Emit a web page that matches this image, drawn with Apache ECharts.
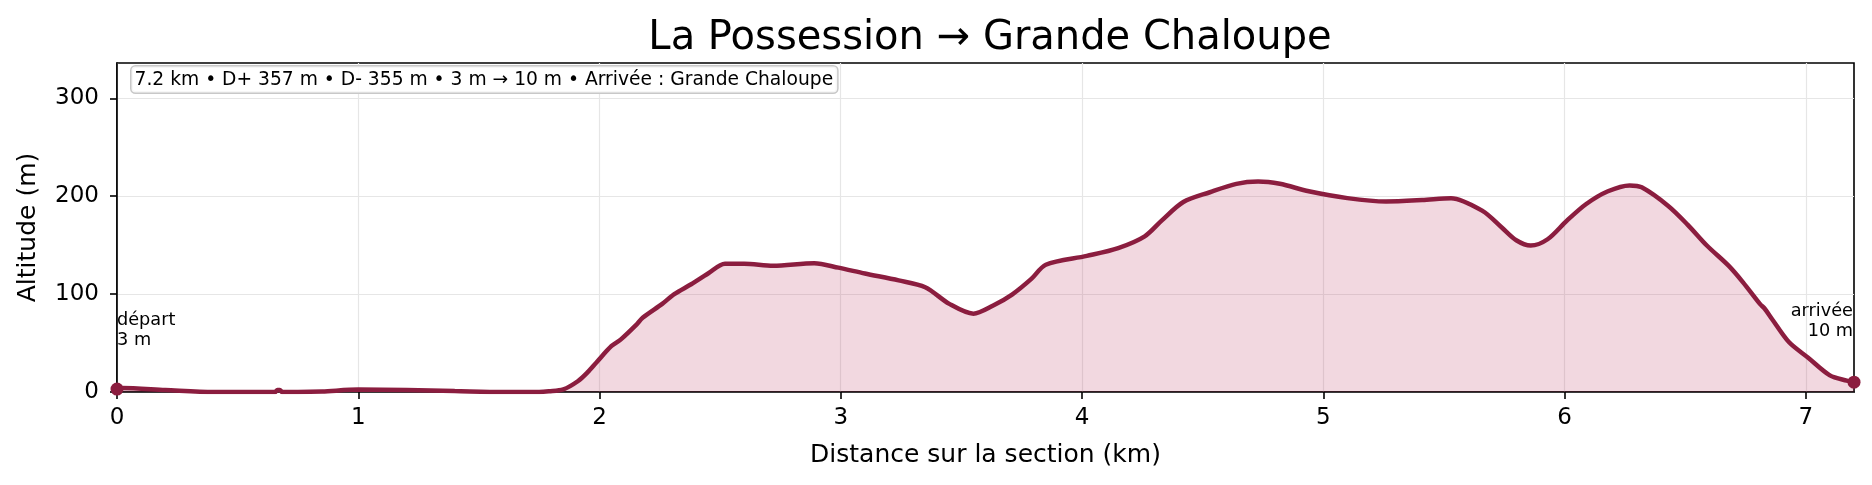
<!DOCTYPE html>
<html>
<head>
<meta charset="utf-8">
<script src="https://cdn.jsdelivr.net/npm/echarts@6/dist/echarts.min.js"></script>
<style>
html,body{margin:0;padding:0;background:#fff;}
#chart{width:1872px;height:485px;}
</style>
</head>
<body>
<div id="chart"></div>
<script>
const titleText = 'La Possession \u2192 Grande Chaloupe';
const infoText = '7.2 km \u2022 D+ 357 m \u2022 D- 355 m \u2022 3 m \u2192 10 m \u2022 Arriv\u00e9e : Grande Chaloupe';
const xLabel = 'Distance sur la section (km)';
const yLabel = 'Altitude (m)';
const xTicks = [0, 1, 2, 3, 4, 5, 6, 7];
const yTicks = [0, 100, 200, 300];
const xMax = 7.2;
const yMax = 336;

const distKm = [0, 0.02, 0.2, 0.4, 0.6, 0.655, 0.665, 0.675, 0.685, 0.75, 0.85, 1.0, 1.2, 1.4, 1.6, 1.75, 1.79, 1.85, 1.91, 1.95, 1.99, 2.05, 2.09, 2.15, 2.18, 2.26, 2.31, 2.38, 2.45, 2.52, 2.6, 2.72, 2.89, 2.99, 3.10, 3.24, 3.35, 3.45, 3.55, 3.63, 3.71, 3.79, 3.85, 4.02, 4.15, 4.26, 4.33, 4.42, 4.53, 4.64, 4.73, 4.82, 4.94, 5.10, 5.26, 5.41, 5.53, 5.66, 5.74, 5.80, 5.86, 5.93, 6.01, 6.09, 6.18, 6.27, 6.32, 6.43, 6.51, 6.59, 6.68, 6.74, 6.81, 6.83, 6.86, 6.93, 7.01, 7.10, 7.17, 7.2];
const elevM = [3, 4, 2, 0, 0, 0, 2, 2, 0, 0, 0.5, 2.5, 2, 1, 0, 0, 0.7, 2.7, 11, 20, 31, 47, 54, 68, 76, 90, 100, 110, 121, 131, 131, 129, 131.5, 127, 121, 114, 107, 90, 80, 88, 99.5, 115.5, 130, 139, 147, 159, 175, 194, 204, 212.6, 215, 212.6, 205, 198, 194.5, 196, 198, 185, 168, 155, 149.6, 156, 175, 192, 205, 211, 209, 190, 171, 149.6, 129, 112, 90, 85, 74.6, 51, 35, 17, 11.6, 10];

const endpoints = [[0, 3], [7.2, 10]];
const endpointLabels = ['d\u00e9part\n3 m', 'arriv\u00e9e\n10 m'];

const lineColor = '#8b1d3f';
const fillColor = 'rgba(190,60,100,0.2)';
const FONT = 'DejaVu Sans';

const chart = echarts.init(document.getElementById('chart'), null, {renderer: 'canvas'});
const lineData = distKm.map((d, i) => [d, elevM[i]]);

chart.setOption({
  animation: false,
  backgroundColor: '#ffffff',
  title: {
    text: titleText,
    left: 985, top: 14, textAlign: 'center',
    textStyle: {fontFamily: FONT, fontSize: 40, fontWeight: 'normal', color: '#000'}
  },
  grid: {
    left: 117, right: 18, top: 63, bottom: 93,
    show: true, borderColor: '#000', borderWidth: 1.6, backgroundColor: 'transparent'
  },
  xAxis: {
    type: 'value', min: 0, max: xMax,
    name: xLabel, nameLocation: 'middle', nameGap: 51,
    nameTextStyle: {fontFamily: FONT, fontSize: 25, color: '#000'},
    axisLine: {show: true, onZero: false, lineStyle: {color: '#000', width: 1.6}},
    axisTick: {show: true, length: 7, lineStyle: {color: '#000', width: 1.6}, customValues: xTicks},
    axisLabel: {fontFamily: FONT, fontSize: 23, color: '#000', margin: 15, customValues: xTicks},
    splitLine: {show: true, lineStyle: {color: '#e6e6e6', width: 1.2}}
  },
  yAxis: {
    type: 'value', min: 0, max: yMax,
    name: yLabel, nameLocation: 'middle', nameGap: 76, nameRotate: 90,
    nameTextStyle: {fontFamily: FONT, fontSize: 25, color: '#000'},
    axisLine: {show: true, onZero: false, lineStyle: {color: '#000', width: 1.6}},
    axisTick: {show: true, length: 7, lineStyle: {color: '#000', width: 1.6}, customValues: yTicks},
    axisLabel: {fontFamily: FONT, fontSize: 23, color: '#000', margin: 18, customValues: yTicks},
    splitLine: {show: true, lineStyle: {color: '#e6e6e6', width: 1.2}}
  },
  graphic: [{
    type: 'text',
    left: 130, top: 65,
    style: {
      text: infoText,
      font: '18.7px "DejaVu Sans"',
      fill: '#000',
      backgroundColor: 'rgba(255,255,255,0.85)',
      borderColor: '#c8c8c8', borderWidth: 1.5, borderRadius: 4,
      padding: [4, 4, 3, 3]
    },
    z: 100
  }],
  series: [
    {
      type: 'line',
      data: lineData,
      showSymbol: false,
      symbol: 'none',
      smooth: 0.3,
      clip: true,
      lineStyle: {color: lineColor, width: 4.5},
      areaStyle: {color: fillColor, opacity: 1, origin: 'start'},
      z: 3
    },
    {
      type: 'scatter',
      data: endpoints.map((p, i) => ({
        value: p,
        label: {
          show: true,
          formatter: endpointLabels[i],
          position: i === 0 ? [6.5, -72] : [5.5, -74],
          align: i === 0 ? 'left' : 'right',
          verticalAlign: 'top',
          fontFamily: FONT, fontSize: 17.7, lineHeight: 20, color: '#000',
          textBorderWidth: 0
        }
      })),
      symbol: 'circle',
      symbolSize: 13,
      itemStyle: {color: lineColor, opacity: 1},
      clip: true,
      z: 4
    }
  ]
});
</script>
</body>
</html>
